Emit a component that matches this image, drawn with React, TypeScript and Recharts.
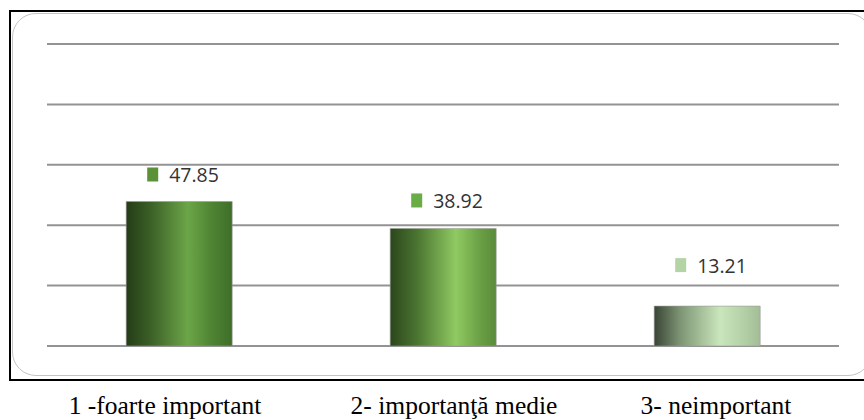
import React from "react";
import { BarChart, Bar, XAxis, YAxis, CartesianGrid, Cell, LabelList } from "recharts";

// Chart values
const categories = ["1 -foarte important", "2- importanţă medie", "3- neimportant"];
const values = [47.85, 38.92, 13.21];
const yTicks = [0, 20, 40, 60, 80, 100];

// Styling
const gradientStops = [
  [
    ["0%", "#243c17"],
    ["22%", "#3a5e26"],
    ["58%", "#6ca548"],
    ["80%", "#4f8533"],
    ["100%", "#3f6d29"],
  ],
  [
    ["0%", "#2b461c"],
    ["25%", "#4a7430"],
    ["62%", "#8fca62"],
    ["85%", "#6a9f45"],
    ["100%", "#5a8b3a"],
  ],
  [
    ["0%", "#394535"],
    ["25%", "#7f9675"],
    ["62%", "#c9e6bc"],
    ["85%", "#b3cfa6"],
    ["100%", "#a3bd96"],
  ],
];
const markerColors = ["#5b9239", "#6aac45", "#b4d4a5"];
const labelLift = [27, 28, 41];
const tickShift = [-14, 11, 9];

const data = categories.map((name, i) => ({ name, value: values[i] }));

const ValueLabel = (props: any) => {
  const { x, y, width, value, index } = props;
  const cx = x + width / 2;
  const cy = y - labelLift[index];
  const left = cx - 32;
  return (
    <g>
      <rect x={left} y={cy - 7} width={11} height={14} fill={markerColors[index]} />
      <text
        x={left + 22}
        y={cy}
        dominantBaseline="central"
        fontFamily="'Open Sans', sans-serif"
        fontSize={19.5}
        fill="#333"
      >
        {Number(value).toFixed(2)}
      </text>
    </g>
  );
};

const CategoryTick = (props: any) => {
  const { x, y, payload, index } = props;
  return (
    <text
      x={x + tickShift[index]}
      y={y + 60}
      textAnchor="middle"
      fontFamily="'Liberation Serif', 'Times New Roman', serif"
      fontSize={25.5}
      fill="#000"
    >
      {payload.value}
    </text>
  );
};

export default function App() {
  return (
    <div
      style={{
        position: "absolute",
        left: 0,
        top: 0,
        width: 864,
        height: 420,
        overflow: "hidden",
        background: "#fff",
      }}
    >
      {/* outer black frame */}
      <div
        style={{
          position: "absolute",
          left: 9,
          top: 10,
          width: 870,
          height: 367,
          border: "2px solid #000",
        }}
      />
      {/* inner rounded panel */}
      <div
        style={{
          position: "absolute",
          left: 12,
          top: 13,
          width: 858,
          height: 361,
          border: "1.5px solid #c4c4c4",
          borderRadius: 24,
        }}
      />
      <div style={{ position: "absolute", left: 0, top: 0 }}>
        <BarChart
          width={864}
          height={420}
          data={data}
          margin={{ top: 44, right: 25, left: 47, bottom: 14 }}
          barCategoryGap="30%"
        >
          <defs>
            {gradientStops.map((stops, i) => (
              <linearGradient key={i} id={`barGrad${i}`} x1="0" y1="0" x2="1" y2="0">
                {stops.map(([off, col]) => (
                  <stop key={off} offset={off} stopColor={col} />
                ))}
              </linearGradient>
            ))}
          </defs>
          <CartesianGrid vertical={false} stroke="#939393" strokeWidth={2} />
          <YAxis hide domain={[0, 100]} ticks={yTicks} />
          <XAxis
            dataKey="name"
            axisLine={false}
            tickLine={false}
            height={60}
            interval={0}
            tick={<CategoryTick />}
          />
          <Bar dataKey="value" isAnimationActive={false} stroke="#9a9a9a" strokeWidth={0.6}>
            {data.map((_, i) => (
              <Cell key={i} fill={`url(#barGrad${i})`} />
            ))}
            <LabelList dataKey="value" content={<ValueLabel />} />
          </Bar>
        </BarChart>
      </div>
    </div>
  );
}
